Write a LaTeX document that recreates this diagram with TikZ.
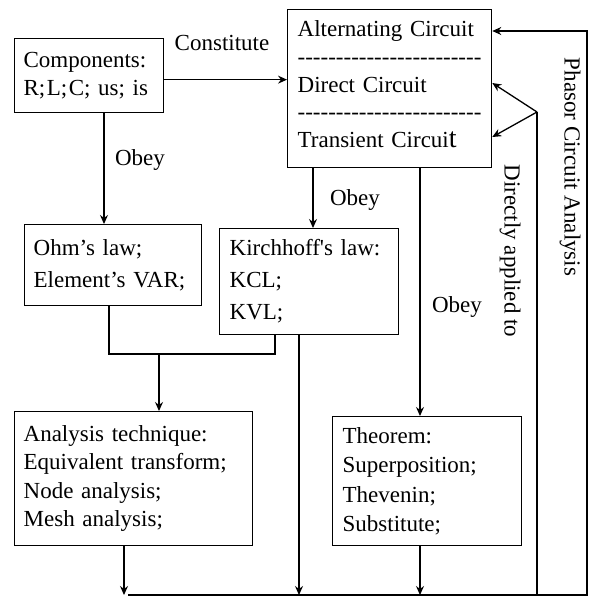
\documentclass[tikz,border=0pt]{standalone}
\usepackage{fontspec}
\setmainfont{Liberation Serif}
\usetikzlibrary{arrows.meta,calc}
\newcommand\hy{-\kern0pt}
\newcommand\dashrow{\hy\hy\hy\hy\hy\hy\hy\hy\hy\hy\hy\hy\hy\hy\hy\hy\hy\hy\hy\hy\hy\hy\hy\hy}
\tikzset{
  box/.style={draw, line width=1.3pt, align=left, anchor=north west, inner xsep=9pt, inner ysep=0pt,
    font=\fontsize{23}{28.5}\selectfont},
  widebox/.style={box, font=\fontsize{23}{32}\selectfont},
  lbl/.style={font=\fontsize{23}{28}\selectfont, inner sep=0pt},
  conn/.style={line width=1.3pt},
  arr/.style={conn, -{Stealth[length=9pt,width=8pt,inset=3pt]}}
}
\begin{document}
\begin{tikzpicture}[x=1pt,y=-1pt]
\useasboundingbox (0,0) rectangle (590,597);
% boxes
\node[box, text width=131pt, minimum height=74pt] (comp) at (14,38)
  {Components:\\R;\kern1.5pt L;\kern1.5pt C; us; is};
\node[box, inner xsep=10pt, text width=184pt, minimum height=158pt,
  font=\fontsize{23}{27.8}\selectfont] (circ) at (287,9)
  {Alternating Circuit\\\dashrow\\Direct Circuit\\\dashrow\\Transient Circui{\fontsize{28}{28}\selectfont t}\rule[-9pt]{0pt}{9pt}};
\node[widebox, text width=159pt, minimum height=81pt] (ohm) at (24,224) {Ohm’s law;\\Element’s VAR;};
\node[widebox, inner xsep=10pt, text width=159pt, minimum height=106pt] (kirch) at (219,228)
  {Kirchhoff\textquotesingle s law:\\KCL;\\KVL;};
\node[box, text width=220pt, minimum height=134pt] (anal) at (14,411)
  {Analysis technique:\\Equivalent transform;\\Node analysis;\\Mesh analysis;};
\node[box, inner xsep=10pt, text width=169pt, minimum height=129pt,
  font=\fontsize{23}{29.3}\selectfont] (theo) at (332,416)
  {Theorem:\\Superposition;\\Thevenin;\\Substitute;};
% labels
\node[lbl] (lconst) at (222,43) {Constitute};
\node[lbl] (lobey1) at (140,160) {Obey};
\node[lbl] (lobey2) at (355,200) {Obey};
\node[lbl] (lobey3) at (457,307) {Obey};
\node[lbl, rotate=-90] (ldirect) at (510,251) {Directly applied to};
\node[lbl, rotate=-90] (lphasor) at (570,167) {Phasor Circuit Analysis};
% coordinates
\coordinate (j1) at (159,354);
\coordinate (bl) at (128,595);
\coordinate (tr) at (587,31);
\coordinate (apex) at (537,112);
\coordinate (ce) at ($(comp.east)+(0,4)$);
% connectors
\draw[arr] (ce) -- (ce -| circ.west);
\draw[arr] (104,0 |- comp.south) -- (104,0 |- ohm.north);
\draw[arr] (313,0 |- circ.south) -- (313,0 |- kirch.north);
\draw[arr] (420,0 |- circ.south) -- (420,0 |- theo.north);
\draw[conn] (109,0 |- ohm.south) |- (275,354) -- (275,0 |- kirch.south);
\draw[arr] (j1) -- (j1 |- anal.north);
\draw[arr] (124,0 |- anal.south) -- (124,595);
\draw[arr] (299,0 |- kirch.south) -- (299,595);
\draw[arr] (420,0 |- theo.south) -- (420,595);
\draw[arr] (bl) -| (tr) -- (tr -| circ.east);
\draw[conn] (apex) -- (apex |- bl);
\draw[arr] (apex) -- (circ.east |- 0,83);
\draw[arr] (apex) -- (circ.east |- 0,137);
\end{tikzpicture}
\end{document}
